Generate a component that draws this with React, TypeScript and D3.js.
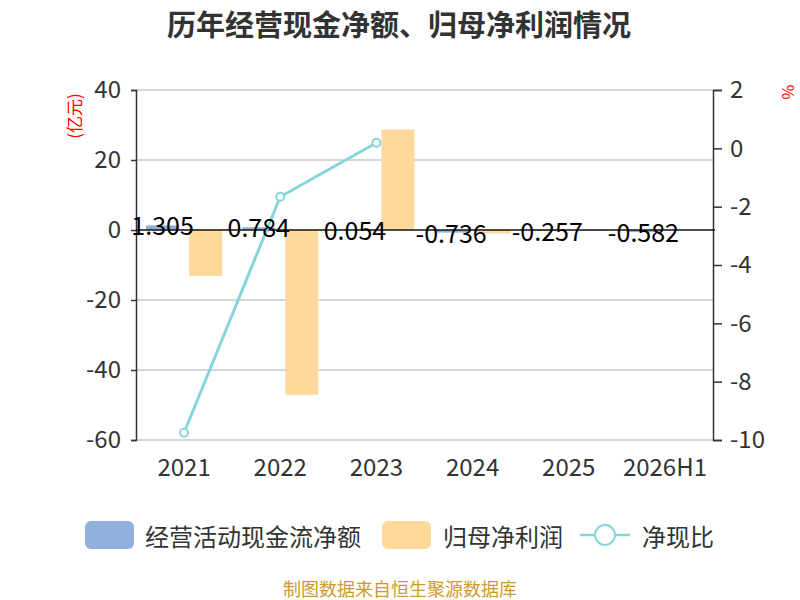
import { useEffect, useRef } from "react";
import * as d3 from "d3";

const categories = ["2021", "2022", "2023", "2024", "2025", "2026H1"];
const cashFlow = [1.305, 0.784, 0.054, -0.736, -0.257, -0.582];
const netProfit = [-13.1, -47.1, 28.7, -1.0, -0.2, -0.05];
const cashRatio = [-9.75, -1.66, 0.19];
const leftTicks = [40, 20, 0, -20, -40, -60];
const rightTicks = [2, 0, -2, -4, -6, -8, -10];

const W = 800;
const H = 600;
const MARGIN = { top: 90, right: 87, bottom: 160, left: 136 };
const FONT = "'Noto Sans CJK SC', 'Noto Sans', sans-serif";
const BLUE = "#8fafdc";
const ORANGE = "#ffd999";
const TEAL = "#86d5d9";

export default function App() {
  const svgRef = useRef<SVGSVGElement>(null);

  useEffect(() => {
    if (!svgRef.current) return;
    const svg = d3.select(svgRef.current);
    svg.selectAll("*").remove();

    const x0 = MARGIN.left;
    const x1 = W - MARGIN.right;
    const yTop = MARGIN.top;
    const yBot = H - MARGIN.bottom;

    const x = d3.scaleBand<string>().domain(categories).range([x0, x1]).padding(0);
    const xs = d3
      .scaleBand<string>()
      .domain(["cash", "profit"])
      .range([0, x.bandwidth()])
      .paddingInner(0.233)
      .paddingOuter(0.235);
    const yL = d3.scaleLinear().domain([-60, 40]).range([yBot, yTop]);
    const yR = d3.scaleLinear().domain([-10, 2]).range([yBot, yTop]);

    svg.append("rect").attr("width", W).attr("height", H).attr("fill", "#fff");

    // title
    svg
      .append("text")
      .attr("x", 399)
      .attr("y", 23)
      .attr("text-anchor", "middle")
      .attr("dominant-baseline", "central")
      .attr("font-family", FONT)
      .attr("font-size", 29)
      .attr("font-weight", 700)
      .attr("fill", "#333")
      .text("历年经营现金净额、归母净利润情况");

    // grid
    svg
      .append("g")
      .selectAll("line")
      .data(leftTicks.filter((d) => d !== 0))
      .join("line")
      .attr("x1", x0)
      .attr("x2", x1)
      .attr("y1", (d) => yL(d))
      .attr("y2", (d) => yL(d))
      .attr("stroke", "#c8c8c8")
      .attr("stroke-width", 1.5);

    // left axis
    const gl = svg.append("g").attr("transform", `translate(${x0},0)`);
    gl.call(d3.axisLeft(yL).tickValues(leftTicks).tickSize(5).tickPadding(10).tickFormat((d) => `${d}`));
    gl.select(".domain").attr("stroke", "#333").attr("stroke-width", 1.5);
    gl.selectAll(".tick line").attr("stroke", "#333").attr("stroke-width", 1.5);
    gl.selectAll(".tick text")
      .attr("font-family", FONT)
      .attr("font-size", 24)
      .attr("fill", "#333");

    // right axis
    const gr = svg.append("g").attr("transform", `translate(${x1},0)`);
    gr.call(d3.axisRight(yR).tickValues(rightTicks).tickSize(9).tickPadding(8).tickFormat((d) => `${d}`));
    gr.select(".domain").attr("stroke", "#333").attr("stroke-width", 1.5);
    gr.selectAll(".tick line").attr("stroke", "#333").attr("stroke-width", 1.5);
    gr.selectAll(".tick text")
      .attr("font-family", FONT)
      .attr("font-size", 24)
      .attr("fill", "#333");

    // unit labels
    svg
      .append("text")
      .attr("transform", `translate(73,116) rotate(-90)`)
      .attr("text-anchor", "middle")
      .attr("dominant-baseline", "central")
      .attr("font-family", FONT)
      .attr("font-size", 17)
      .attr("fill", "red")
      .text("(亿元)");
    svg
      .append("text")
      .attr("transform", `translate(789,92) rotate(90)`)
      .attr("text-anchor", "middle")
      .attr("dominant-baseline", "central")
      .attr("font-family", FONT)
      .attr("font-size", 16)
      .attr("fill", "red")
      .text("%");

    // x labels
    svg
      .append("g")
      .selectAll("text")
      .data(categories)
      .join("text")
      .attr("x", (d) => (x(d) ?? 0) + x.bandwidth() / 2)
      .attr("y", 465)
      .attr("text-anchor", "middle")
      .attr("dominant-baseline", "central")
      .attr("font-family", FONT)
      .attr("font-size", 24)
      .attr("fill", "#333")
      .text((d) => d);

    // bars
    const bars = svg.append("g");
    bars
      .selectAll("rect.cash")
      .data(cashFlow)
      .join("rect")
      .attr("class", "cash")
      .attr("x", (_, i) => (x(categories[i]) ?? 0) + (xs("cash") ?? 0))
      .attr("width", xs.bandwidth())
      .attr("y", (d) => Math.min(yL(d), yL(0)))
      .attr("height", (d) => Math.abs(yL(d) - yL(0)))
      .attr("fill", BLUE);
    bars
      .selectAll("rect.profit")
      .data(netProfit)
      .join("rect")
      .attr("class", "profit")
      .attr("x", (_, i) => (x(categories[i]) ?? 0) + (xs("profit") ?? 0))
      .attr("width", xs.bandwidth())
      .attr("y", (d) => Math.min(yL(d), yL(0)))
      .attr("height", (d) => Math.abs(yL(d) - yL(0)))
      .attr("fill", ORANGE);

    // zero line
    svg
      .append("line")
      .attr("x1", x0)
      .attr("x2", x1 + 2)
      .attr("y1", yL(0))
      .attr("y2", yL(0))
      .attr("stroke", "#111")
      .attr("stroke-width", 1.5);

    // line series
    const cx = (i: number) => (x(categories[i]) ?? 0) + x.bandwidth() / 2;
    const line = d3
      .line<number>()
      .x((_, i) => cx(i))
      .y((d) => yR(d));
    svg
      .append("path")
      .datum(cashRatio)
      .attr("d", line)
      .attr("fill", "none")
      .attr("stroke", TEAL)
      .attr("stroke-width", 3);
    svg
      .append("g")
      .selectAll("circle")
      .data(cashRatio)
      .join("circle")
      .attr("cx", (_, i) => cx(i))
      .attr("cy", (d) => yR(d))
      .attr("r", 4)
      .attr("fill", "#fff")
      .attr("stroke", TEAL)
      .attr("stroke-width", 2);

    // value labels
    svg
      .append("g")
      .selectAll("text")
      .data(cashFlow)
      .join("text")
      .attr("x", (_, i) => (x(categories[i]) ?? 0) + (xs("cash") ?? 0) + xs.bandwidth() / 2)
      .attr("y", (d) => yL(d) - 1)
      .attr("text-anchor", "middle")
      .attr("dominant-baseline", "central")
      .attr("font-family", FONT)
      .attr("font-size", 25)
      .attr("fill", "#000")
      .text((d) => d.toFixed(3));

    // legend
    const lg = svg.append("g").attr("font-family", FONT).attr("font-size", 24).attr("fill", "#333");
    lg.append("rect").attr("x", 85).attr("y", 521).attr("width", 49).attr("height", 28).attr("rx", 6).attr("fill", BLUE);
    lg.append("text").attr("x", 145).attr("y", 535).attr("dominant-baseline", "central").text("经营活动现金流净额");
    lg.append("rect").attr("x", 382).attr("y", 521).attr("width", 49).attr("height", 28).attr("rx", 6).attr("fill", ORANGE);
    lg.append("text").attr("x", 443).attr("y", 535).attr("dominant-baseline", "central").text("归母净利润");
    lg.append("line").attr("x1", 580).attr("x2", 630).attr("y1", 535).attr("y2", 535).attr("stroke", TEAL).attr("stroke-width", 2.5);
    lg.append("circle").attr("cx", 605).attr("cy", 535).attr("r", 10).attr("fill", "#fff").attr("stroke", TEAL).attr("stroke-width", 2);
    lg.append("text").attr("x", 642).attr("y", 535).attr("dominant-baseline", "central").text("净现比");

    // source
    svg
      .append("text")
      .attr("x", 400)
      .attr("y", 588)
      .attr("text-anchor", "middle")
      .attr("dominant-baseline", "central")
      .attr("font-family", FONT)
      .attr("font-size", 18)
      .attr("fill", "#cc9a2e")
      .text("制图数据来自恒生聚源数据库");
  }, []);

  return (
    <svg
      ref={svgRef}
      width={W}
      height={H}
      style={{ position: "absolute", left: 0, top: 0 }}
    />
  );
}
